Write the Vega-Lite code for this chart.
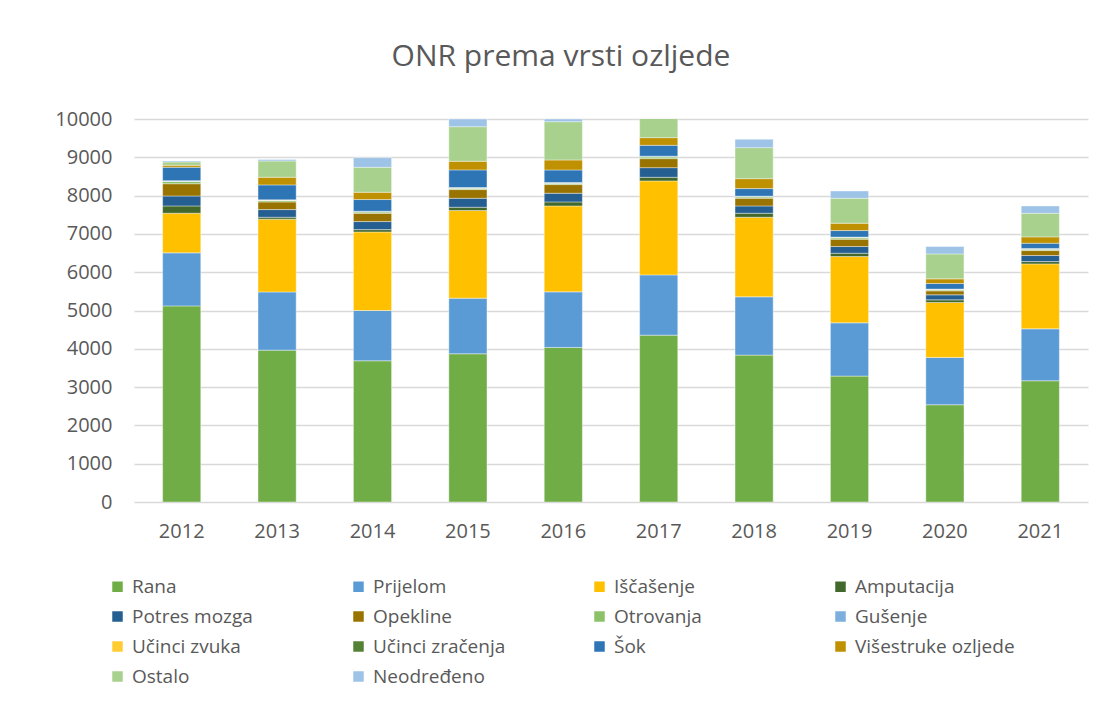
{
  "$schema": "https://vega.github.io/schema/vega-lite/v6.json",
  "autosize": {"type": "none"},
  "width": 954,
  "height": 383,
  "padding": {"left": 134, "top": 119, "right": 10, "bottom": 209},
  "background": "white",
  "title": {
    "text": "ONR prema vrsti ozljede",
    "font": "Open Sans",
    "fontSize": 30,
    "fontWeight": "normal",
    "color": "#595959",
    "anchor": "middle",
    "frame": "group",
    "dx": -50,
    "offset": 37
  },
  "datasets": {
    "vrste": [
      {"vrsta": "Rana", "red": 1},
      {"vrsta": "Prijelom", "red": 2},
      {"vrsta": "Iščašenje", "red": 3},
      {"vrsta": "Amputacija", "red": 4},
      {"vrsta": "Potres mozga", "red": 5},
      {"vrsta": "Opekline", "red": 6},
      {"vrsta": "Otrovanja", "red": 7},
      {"vrsta": "Gušenje", "red": 8},
      {"vrsta": "Učinci zvuka", "red": 9},
      {"vrsta": "Učinci zračenja", "red": 10},
      {"vrsta": "Šok", "red": 11},
      {"vrsta": "Višestruke ozljede", "red": 12},
      {"vrsta": "Ostalo", "red": 13},
      {"vrsta": "Neodređeno", "red": 14}
    ],
    "onr": [
      {"godina": "2012", "Rana": 5120, "Prijelom": 1385, "Iščašenje": 1035, "Amputacija": 190, "Potres mozga": 260, "Opekline": 320, "Otrovanja": 60, "Gušenje": 10, "Učinci zvuka": 5, "Učinci zračenja": 5, "Šok": 350, "Višestruke ozljede": 52, "Ostalo": 87, "Neodređeno": 25},
      {"godina": "2013", "Rana": 3965, "Prijelom": 1520, "Iščašenje": 1900, "Amputacija": 50, "Potres mozga": 200, "Opekline": 200, "Otrovanja": 35, "Gušenje": 10, "Učinci zvuka": 5, "Učinci zračenja": 5, "Šok": 390, "Višestruke ozljede": 200, "Ostalo": 425, "Neodređeno": 35},
      {"godina": "2014", "Rana": 3687, "Prijelom": 1313, "Iščašenje": 2050, "Amputacija": 62, "Potres mozga": 210, "Opekline": 215, "Otrovanja": 35, "Gušenje": 10, "Učinci zvuka": 5, "Učinci zračenja": 5, "Šok": 305, "Višestruke ozljede": 190, "Ostalo": 652, "Neodređeno": 252},
      {"godina": "2015", "Rana": 3870, "Prijelom": 1452, "Iščašenje": 2287, "Amputacija": 87, "Potres mozga": 234, "Opekline": 227, "Otrovanja": 34, "Gušenje": 10, "Učinci zvuka": 5, "Učinci zračenja": 5, "Šok": 460, "Višestruke ozljede": 225, "Ostalo": 904, "Neodređeno": 200},
      {"godina": "2016", "Rana": 4035, "Prijelom": 1452, "Iščašenje": 2243, "Amputacija": 105, "Potres mozga": 226, "Opekline": 226, "Otrovanja": 35, "Gušenje": 10, "Učinci zvuka": 5, "Učinci zračenja": 5, "Šok": 328, "Višestruke ozljede": 260, "Ostalo": 1000, "Neodređeno": 70},
      {"godina": "2017", "Rana": 4357, "Prijelom": 1573, "Iščašenje": 2453, "Amputacija": 95, "Potres mozga": 252, "Opekline": 235, "Otrovanja": 44, "Gušenje": 10, "Učinci zvuka": 5, "Učinci zračenja": 5, "Šok": 284, "Višestruke ozljede": 200, "Ostalo": 550, "Neodređeno": 180},
      {"godina": "2018", "Rana": 3835, "Prijelom": 1522, "Iščašenje": 2078, "Amputacija": 104, "Potres mozga": 191, "Opekline": 200, "Otrovanja": 35, "Gušenje": 10, "Učinci zvuka": 5, "Učinci zračenja": 5, "Šok": 198, "Višestruke ozljede": 260, "Ostalo": 809, "Neodređeno": 218},
      {"godina": "2019", "Rana": 3287, "Prijelom": 1391, "Iščašenje": 1731, "Amputacija": 87, "Potres mozga": 174, "Opekline": 191, "Otrovanja": 35, "Gušenje": 10, "Učinci zvuka": 5, "Učinci zračenja": 5, "Šok": 171, "Višestruke ozljede": 191, "Ostalo": 652, "Neodređeno": 192},
      {"godina": "2020", "Rana": 2539, "Prijelom": 1235, "Iščašenje": 1435, "Amputacija": 69, "Potres mozga": 131, "Opekline": 104, "Otrovanja": 26, "Gušenje": 10, "Učinci zvuka": 5, "Učinci zračenja": 5, "Šok": 145, "Višestruke ozljede": 122, "Ostalo": 652, "Neodređeno": 192},
      {"godina": "2021", "Rana": 3165, "Prijelom": 1357, "Iščašenje": 1695, "Amputacija": 61, "Potres mozga": 157, "Opekline": 130, "Otrovanja": 35, "Gušenje": 10, "Učinci zvuka": 5, "Učinci zračenja": 5, "Šok": 137, "Višestruke ozljede": 165, "Ostalo": 617, "Neodređeno": 191}
    ]
  },
  "data": {"name": "onr"},
  "transform": [
    {"fold": ["Rana", "Prijelom", "Iščašenje", "Amputacija", "Potres mozga", "Opekline", "Otrovanja", "Gušenje", "Učinci zvuka", "Učinci zračenja", "Šok", "Višestruke ozljede", "Ostalo", "Neodređeno"], "as": ["vrsta", "broj"]},
    {"lookup": "vrsta", "from": {"data": {"name": "vrste"}, "key": "vrsta", "fields": ["red"]}}
  ],
  "mark": {"type": "bar", "clip": true, "stroke": "white", "strokeWidth": 0.4},
  "encoding": {
    "x": {
      "field": "godina",
      "type": "nominal",
      "title": null,
      "scale": {"paddingInner": 0.6, "paddingOuter": 0.3},
      "axis": {"labelAngle": 0, "labelFont": "Open Sans", "labelFontSize": 20, "labelColor": "#595959", "labelPadding": 19, "ticks": false, "domain": false}
    },
    "y": {
      "field": "broj",
      "type": "quantitative",
      "title": null,
      "stack": "zero",
      "scale": {"domain": [0, 10000], "nice": false},
      "axis": {"values": [0, 1000, 2000, 3000, 4000, 5000, 6000, 7000, 8000, 9000, 10000], "format": "d", "labelFont": "Open Sans", "labelFontSize": 20, "labelColor": "#595959", "labelPadding": 22, "ticks": false, "domain": false, "gridColor": "#d9d9d9", "gridWidth": 1.5}
    },
    "order": {"field": "red", "type": "quantitative", "sort": "ascending"},
    "color": {
      "field": "vrsta",
      "type": "nominal",
      "sort": ["Rana", "Prijelom", "Iščašenje", "Amputacija", "Potres mozga", "Opekline", "Otrovanja", "Gušenje", "Učinci zvuka", "Učinci zračenja", "Šok", "Višestruke ozljede", "Ostalo", "Neodređeno"],
      "scale": {
        "domain": ["Rana", "Prijelom", "Iščašenje", "Amputacija", "Potres mozga", "Opekline", "Otrovanja", "Gušenje", "Učinci zvuka", "Učinci zračenja", "Šok", "Višestruke ozljede", "Ostalo", "Neodređeno"],
        "range": ["#70AD47", "#5B9BD5", "#FFC000", "#43682B", "#255E91", "#997300", "#8CC168", "#7CAFDD", "#FFCD33", "#548235", "#2E75B6", "#BF9000", "#A9D18E", "#9DC3E6"]
      },
      "legend": {
        "title": null,
        "orient": "none",
        "legendX": -26,
        "legendY": 458,
        "direction": "horizontal",
        "columns": 4,
        "gridAlign": "all",
        "columnPadding": 57,
        "rowPadding": 10,
        "symbolType": "square",
        "symbolSize": 110,
        "symbolStrokeWidth": 0,
        "labelFont": "Open Sans",
        "labelFontSize": 19,
        "labelColor": "#595959",
        "labelOffset": 5,
        "labelLimit": 300
      }
    }
  },
  "config": {"view": {"stroke": null}}
}
